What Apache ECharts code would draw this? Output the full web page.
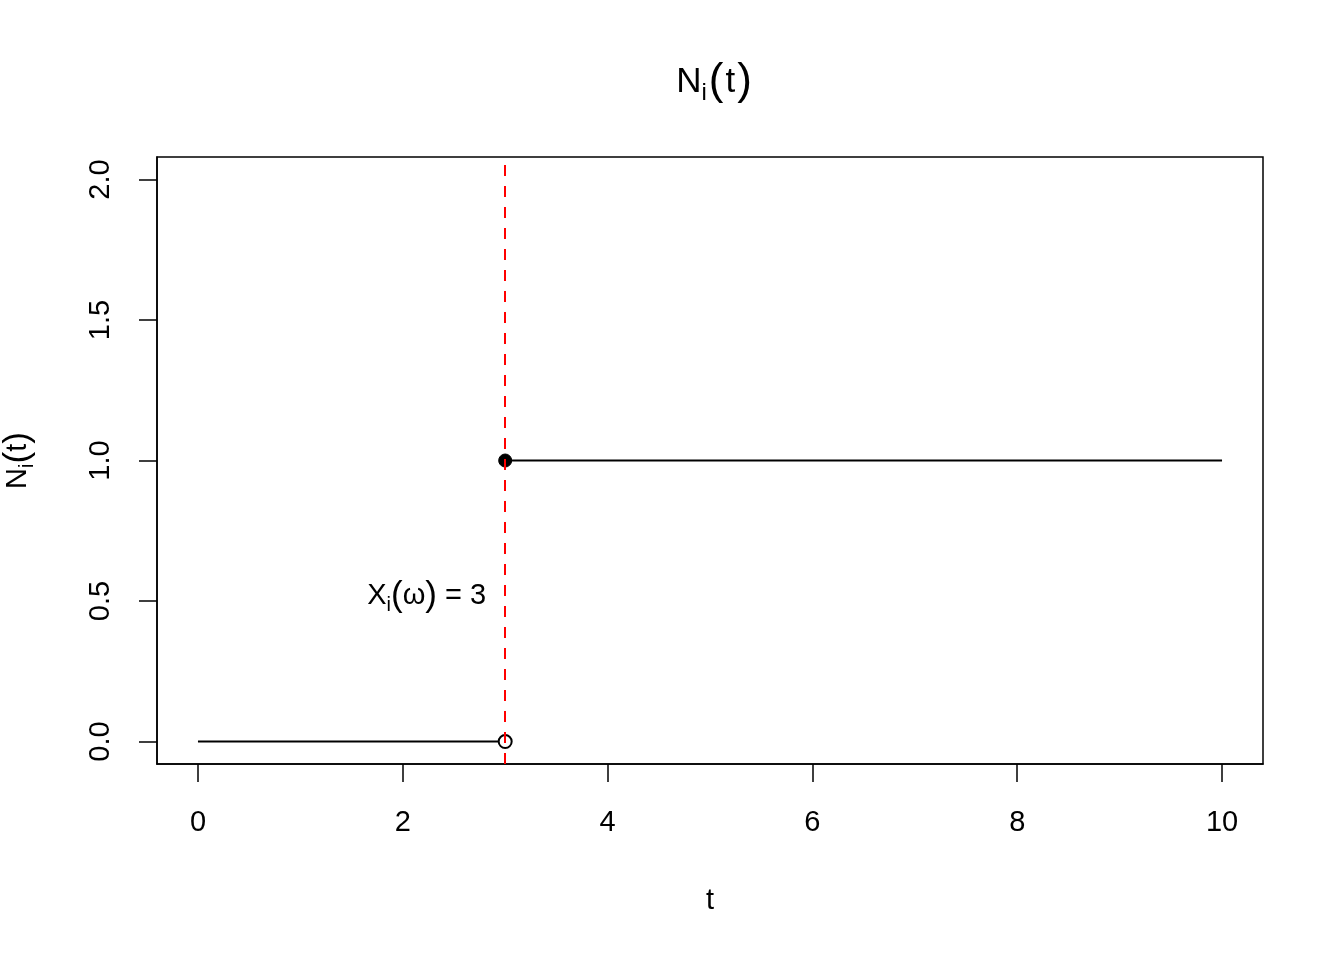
<!DOCTYPE html>
<html>
<head>
<meta charset="utf-8">
<script src="https://cdn.jsdelivr.net/npm/echarts@6/dist/echarts.min.js"></script>
<style>html,body{margin:0;padding:0;background:#fff;}#c{width:1344px;height:960px;}</style>
</head>
<body>
<div id="c"></div>
<script>
// Data
const xTicks = [0, 2, 4, 6, 8, 10];
const yTicks = [0.0, 0.5, 1.0, 1.5, 2.0];
const lowerSegment = [[0, 0], [3, 0]];
const upperSegment = [[3, 1], [10, 1]];
const openPoint = [[3, 0]];
const closedPoint = [[3, 1]];
const jumpTime = 3;
const annotationPoint = [[3, 0.5]];

const FONT = 'Liberation Sans, Arial, Helvetica, sans-serif';
const FS = 29;
const subRich = {
  n: { fontSize: FS, fontFamily: FONT, color: '#000', fontWeight: 'normal', lineHeight: 38 },
  p: { fontSize: 35, fontFamily: FONT, color: '#000', fontWeight: 'normal', lineHeight: 38 },
  s: { fontSize: 20, fontFamily: FONT, color: '#000', fontWeight: 'normal', verticalAlign: 'bottom', lineHeight: 38 }
};

const chart = echarts.init(document.getElementById('c'), null, { renderer: 'canvas' });
chart.setOption({
  animation: false,
  backgroundColor: '#fff',
  title: {
    text: '{t|N}{ts|i}{p|(}{t|t}{p|)}',
    left: 710,
    top: 54,
    textAlign: 'center',
    textStyle: {
      fontWeight: 'normal',
      rich: {
        t: { fontSize: 35, fontFamily: FONT, color: '#000', fontWeight: 'normal', lineHeight: 46 },
        p: { fontSize: 44, fontFamily: FONT, color: '#000', fontWeight: 'normal', lineHeight: 46, padding: [0, 2, 0, 2] },
        ts: { fontSize: 24, fontFamily: FONT, color: '#000', fontWeight: 'normal', verticalAlign: 'bottom', lineHeight: 46 }
      }
    }
  },
  grid: {
    left: 157, right: 81, top: 157, bottom: 196,
    containLabel: false, outerBoundsMode: 'none',
    show: true, borderColor: '#000', borderWidth: 1.5, backgroundColor: 'transparent'
  },
  xAxis: {
    type: 'value', min: -0.4, max: 10.4,
    name: '{n|t}',
    nameLocation: 'middle', nameGap: 118,
    nameTextStyle: { rich: subRich },
    axisLine: { show: true, onZero: false, lineStyle: { color: '#000', width: 1.5 } },
    axisTick: { show: true, inside: false, length: 18, customValues: xTicks, lineStyle: { color: '#000', width: 1.5 } },
    axisLabel: { show: true, margin: 44, customValues: xTicks, fontSize: FS, fontFamily: FONT, color: '#000',
      formatter: v => String(v) },
    splitLine: { show: false }
  },
  yAxis: {
    type: 'value', min: -0.08, max: 2.08,
    name: '{n|N}{s|i}{p|(}{n|t}{p|)}',
    nameLocation: 'middle', nameGap: 120, nameRotate: 90,
    nameTextStyle: { rich: subRich },
    axisLine: { show: true, onZero: false, lineStyle: { color: '#000', width: 1.5 } },
    axisTick: { show: true, inside: false, length: 18, customValues: yTicks, lineStyle: { color: '#000', width: 1.5 } },
    axisLabel: { show: true, rotate: 90, margin: 42, customValues: yTicks, fontSize: FS, fontFamily: FONT, color: '#000',
      formatter: v => v.toFixed(1) },
    splitLine: { show: false }
  },
  series: [
    { type: 'line', data: lowerSegment, symbol: 'none', lineStyle: { color: '#000', width: 2 }, z: 2 },
    { type: 'line', data: upperSegment, symbol: 'none', lineStyle: { color: '#000', width: 2 }, z: 2 },
    { type: 'scatter', data: openPoint, symbol: 'circle', symbolSize: 13,
      itemStyle: { color: '#fff', borderColor: '#000', borderWidth: 2, opacity: 1 }, z: 3 },
    { type: 'scatter', data: closedPoint, symbol: 'circle', symbolSize: 13,
      itemStyle: { color: '#000', borderColor: '#000', borderWidth: 1, opacity: 1 }, z: 3 },
    { type: 'scatter', data: annotationPoint, symbolSize: 0, z: 4,
      itemStyle: { opacity: 1, color: '#000' },
      label: { show: true, position: 'left', distance: 19, offset: [0, -5], color: '#000', opacity: 1,
        formatter: '{n|X}{s|i}{p|(}{n|ω}{p|)}{n| = 3}', rich: subRich } },
    { type: 'line', data: [], z: 5,
      markLine: { silent: true, symbol: ['none', 'none'], label: { show: false },
        lineStyle: { color: '#ff0000', type: [11, 10], width: 2 },
        data: [{ xAxis: jumpTime }] } }
  ]
});
</script>
</body>
</html>
